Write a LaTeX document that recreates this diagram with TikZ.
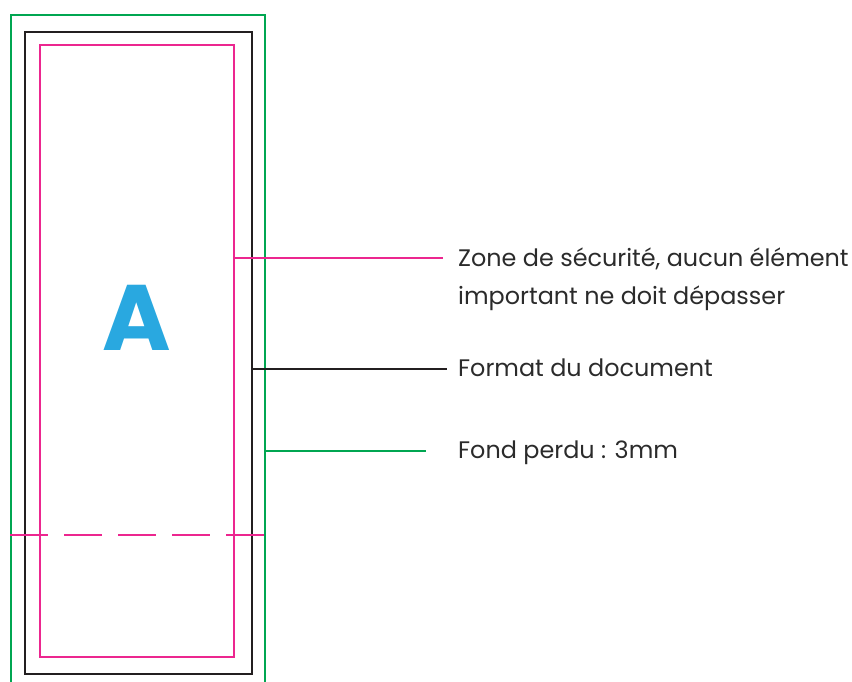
\documentclass[tikz,border=0pt]{standalone}
\usepackage{fontspec}
\setmainfont{Poppins}
\definecolor{bleedgreen}{HTML}{00A651}
\definecolor{safepink}{HTML}{EC268F}
\definecolor{trimblack}{HTML}{231F20}
\definecolor{letterblue}{HTML}{29A8E0}
\definecolor{txtgray}{HTML}{2B2B2B}
\begin{document}
\begin{tikzpicture}[x=1pt,y=-1pt,
  frame/.style={draw,line width=2.3pt,inner sep=0pt,anchor=north west},
  lead/.style={line width=2.3pt},
  lbl/.style={anchor=base west,inner sep=0pt,text=txtgray,font=\fontsize{23.9}{28}\selectfont}]
\useasboundingbox (0,0) rectangle (852,681);
\clip (0,0) rectangle (852,681);
% rectangles
\node[frame,bleedgreen,minimum width=254pt,minimum height=700pt] (bleed) at (10,14) {};
\node[frame,trimblack,minimum width=227pt,minimum height=642pt] (trim) at (24,31) {};
\node[frame,safepink,minimum width=194pt,minimum height=612pt] (safe) at (39,44) {};
% fold line
\coordinate (foldL) at (10,535);
\coordinate (foldR) at (264,535);
\draw[safepink,line width=2.3pt,dash pattern=on 37.5pt off 16.5pt] (foldL) -- (foldR);
% letter
\node[text=letterblue,font=\fontsize{93}{96}\selectfont\bfseries,inner sep=0pt] (letter) at (136.5,318) {A};
% labels
\node[lbl] (l1a) at (458,266) {Zone de sécurité, aucun élément};
\node[lbl] (l1b) at (458,304) {important ne doit dépasser};
\node[lbl] (l2) at (458,376) {Format du document};
\node[lbl] (l3) at (458,458) {Fond perdu : 3mm};
% leaders
\coordinate (e1) at (443,258);
\coordinate (e2) at (447,369);
\coordinate (e3) at (426,451);
\draw[lead,safepink] (safe.east |- e1) -- (e1);
\draw[lead,trimblack] (trim.east |- e2) -- (e2);
\draw[lead,bleedgreen] (bleed.east |- e3) -- (e3);
\end{tikzpicture}
\end{document}
